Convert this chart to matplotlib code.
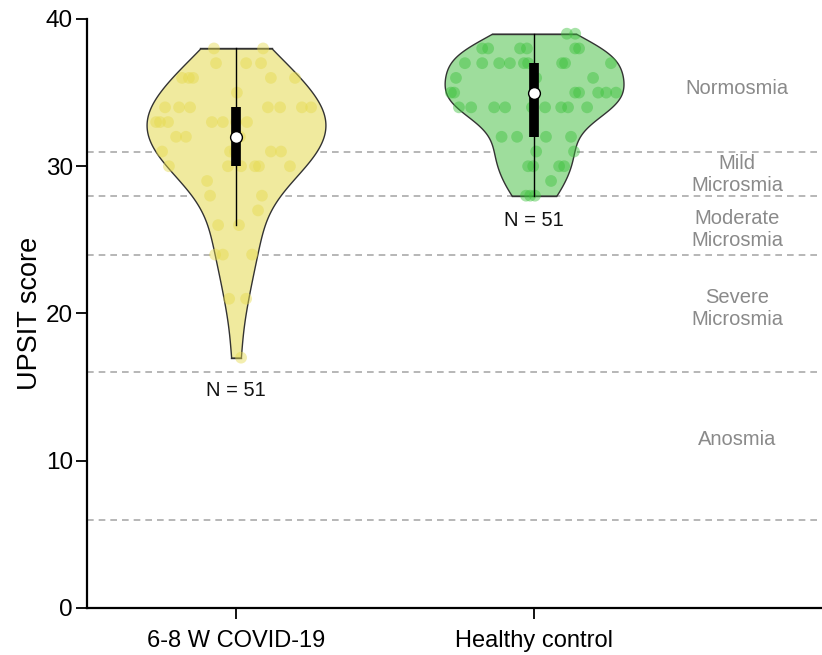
import numpy as np
import matplotlib
matplotlib.use("Agg")
import matplotlib.pyplot as plt

plt.rcParams["font.family"] = ["Liberation Sans", "DejaVu Sans"]

# UPSIT scores per group (integer scores) and horizontal jitter offsets of each dot
groups = ["6-8 W COVID-19", "Healthy control"]

covid_scores = [38, 38,
                37, 37, 37,
                36, 36, 36, 36, 36,
                35,
                34, 34, 34, 34, 34, 34, 34,
                33, 33, 33, 33, 33, 33, 33,
                32, 32, 32,
                31, 31, 31, 31, 31,
                30, 30, 30, 30, 30, 30,
                29,
                28, 28,
                27,
                26, 26,
                24, 24, 24,
                21, 21,
                17]
covid_jitter = [-0.074, 0.091,
                -0.067, 0.034, 0.084,
                -0.181, -0.158, -0.144, 0.117, 0.198,
                0.003,
                -0.238, -0.191, -0.154, 0.107, 0.148, 0.221, 0.252,
                -0.268, -0.255, -0.228, -0.081, -0.044, 0.037, 0.000,
                -0.201, -0.168, 0.013,
                -0.248, -0.020, 0.117, 0.151, -0.003,
                -0.225, -0.027, 0.017, 0.064, 0.077, 0.181,
                -0.097,
                -0.087, 0.087,
                0.074,
                -0.060, 0.010,
                -0.070, -0.044, 0.054,
                -0.023, 0.034,
                0.017]

healthy_scores = [39, 39,
                  38, 38, 38, 38, 38, 38,
                  37, 37, 37, 37, 37, 37, 37, 37, 37,
                  36, 36, 36,
                  35, 35, 35, 35, 35, 35, 35, 35,
                  34, 34, 34, 34, 34, 34, 34, 34, 34,
                  32, 32, 32, 32,
                  31, 31,
                  30, 30, 30, 30,
                  29,
                  28, 28, 28]
healthy_jitter = [0.110, 0.138,
                  -0.174, -0.154, -0.047, -0.024, 0.138, 0.151,
                  -0.232, -0.174, -0.117, -0.081, -0.034, -0.020, 0.094, 0.104, 0.258,
                  -0.262, 0.198, 0.007,
                  -0.279, -0.268, 0.138, 0.151, 0.215, 0.242, 0.275, 0.000,
                  -0.252, -0.211, -0.134, -0.097, 0.037, 0.091, 0.114, 0.178, -0.007,
                  -0.109, -0.057, 0.040, 0.124,
                  0.007, 0.134,
                  -0.020, -0.003, 0.084, 0.101,
                  0.057,
                  -0.027, -0.013, 0.003]

fills = ["#F0EA9E", "#9EDD9C"]
dots = ["#E6DA4E", "#3DC23D"]

# smell-function category boundaries and labels
boundaries = [31, 28, 24, 16, 6]
zone_labels = ["Normosmia", "Mild\nMicrosmia", "Moderate\nMicrosmia",
               "Severe\nMicrosmia", "Anosmia"]
zone_label_y = [35.25, 29.45, 25.7, 20.35, 11.45]
n_label_y = [14.8, 26.3]

fig = plt.figure(figsize=(8.22, 6.55), dpi=100)
ax = fig.add_axes([0.1058, 0.0718, 0.8942, 0.8992])


def kde(values, grid):
    v = np.asarray(values, float)
    bw = v.std(ddof=1) * len(v) ** (-1 / 5)
    z = (grid[:, None] - v[None, :]) / bw
    return np.exp(-0.5 * z ** 2).sum(axis=1)


for i, (scores, jit) in enumerate([(covid_scores, covid_jitter),
                                   (healthy_scores, healthy_jitter)]):
    s = np.asarray(scores, float)
    grid = np.linspace(s.min(), s.max(), 300)
    dens = kde(s, grid)
    half = 0.30 * dens / dens.max()
    ax.fill_betweenx(grid, i - half, i + half, facecolor=fills[i],
                     edgecolor="#333333", linewidth=1.0, zorder=2)
    ax.plot([i - half[0], i + half[0]], [grid[0]] * 2, color="#333333", lw=1.0, zorder=2)
    ax.plot([i - half[-1], i + half[-1]], [grid[-1]] * 2, color="#333333", lw=1.0, zorder=2)

    ax.scatter(i + np.asarray(jit), s, s=72, color=dots[i], alpha=0.45,
               edgecolors="none", zorder=3)

    q1, med, q3 = np.percentile(s, [25, 50, 75])
    iqr = q3 - q1
    lo = s[s >= q1 - 1.0 * iqr].min()
    hi = s[s <= q3 + 1.0 * iqr].max()
    ax.plot([i, i], [lo, hi], color="black", lw=1.0, zorder=4)
    ax.plot([i, i], [q1, q3], color="black", lw=7, solid_capstyle="butt", zorder=5)
    ax.scatter([i], [med], s=72, color="white", edgecolors="black",
               linewidths=1.0, zorder=6)
    ax.text(i, n_label_y[i], f"N = {len(s)}", ha="center", va="center",
            fontsize=14.5, color="#111111")

for b in boundaries:
    ax.axhline(b, color="#AAAAAA", lw=1.2, ls=(0, (4, 3)), zorder=1)

for lab, y in zip(zone_labels, zone_label_y):
    ax.text(1.681, y, lab, ha="center", va="center", fontsize=14.5,
            color="#8A8A8A", linespacing=1.2)

ax.set_xlim(-0.5, 1.966)
ax.set_ylim(0, 40)
ax.set_xticks(range(len(groups)))
ax.set_xticklabels(groups, fontsize=17)
ax.set_yticks([0, 10, 20, 30, 40])
ax.tick_params(axis="y", labelsize=17.5, length=8, width=1.3, pad=2)
ax.tick_params(axis="x", length=8, width=1.3, pad=8)
ax.set_ylabel("UPSIT score", fontsize=19.5, labelpad=2)

for side in ["top", "right"]:
    ax.spines[side].set_visible(False)
for side in ["left", "bottom"]:
    ax.spines[side].set_linewidth(1.6)

fig.savefig("out.png", dpi=100)
